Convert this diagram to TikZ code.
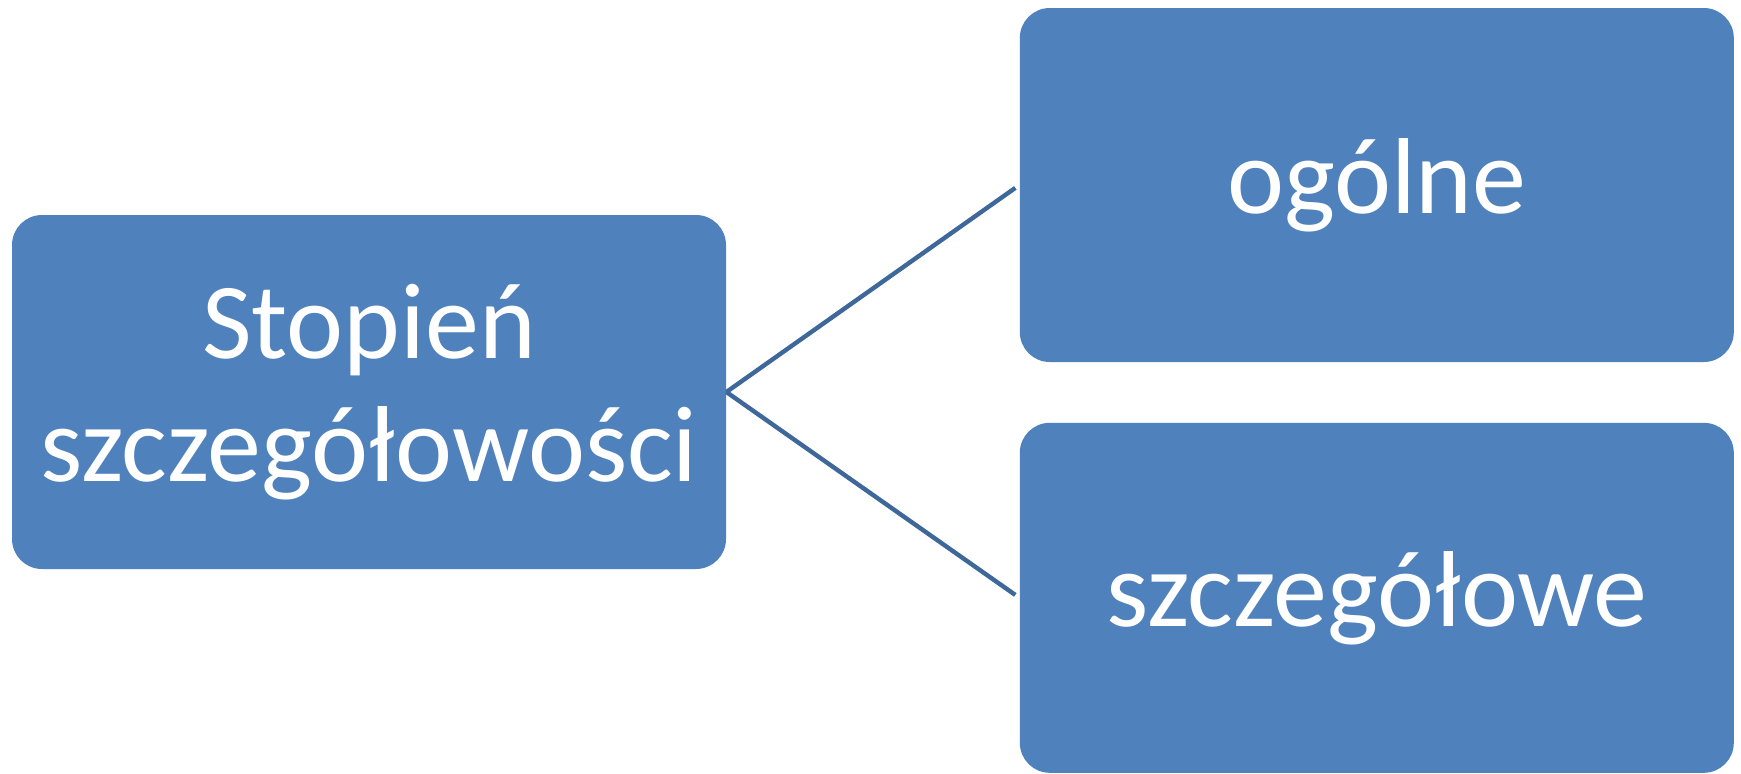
\documentclass[tikz,border=0pt]{standalone}
\usepackage{fontspec}
\setmainfont{Carlito}
\usepackage{tikz}
\usetikzlibrary{positioning}

\definecolor{boxblue}{RGB}{79,129,189}
\definecolor{linkblue}{RGB}{62,104,154}

\begin{document}
\begin{tikzpicture}[x=0.5pt,y=-0.5pt,
  box/.style={fill=boxblue, rounded corners=15pt, text=white, align=center,
    minimum width=357pt, minimum height=177pt, inner sep=0pt,
    font=\fontsize{54}{61.5}\selectfont},
  link/.style={draw=linkblue, line width=2.2pt}]
\useasboundingbox (0,0) rectangle (1741,773);
% Nodes
\node(stopien)[box] at (369,392) {Stopień\\szczegółowości};
\node(ogolne)[box, right = 146.5pt of stopien, yshift=103.5pt]{ogólne};
\node(szczeg)[box, below = 30pt of ogolne.south, anchor=north, minimum height=175pt]{szczegółowe};
% Arcs
\draw[link, shorten >=2.5pt] (stopien.east) -- (ogolne.west);
\draw[link, shorten >=2.5pt] (stopien.east) -- (szczeg.west);
\end{tikzpicture}
\end{document}
